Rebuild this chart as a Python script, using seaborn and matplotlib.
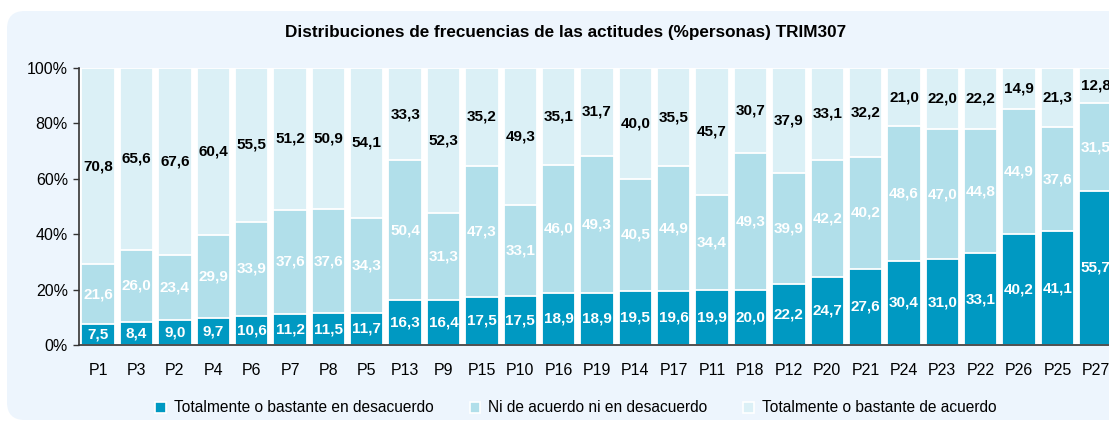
import numpy as np
import pandas as pd
import seaborn as sns
import matplotlib.pyplot as plt
from matplotlib.patches import FancyBboxPatch, Patch

# data
preguntas = ['P1', 'P3', 'P2', 'P4', 'P6', 'P7', 'P8', 'P5', 'P13', 'P9', 'P15', 'P10', 'P16', 'P19',
             'P14', 'P17', 'P11', 'P18', 'P12', 'P20', 'P21', 'P24', 'P23', 'P22', 'P26', 'P25', 'P27']
desacuerdo = [7.5, 8.4, 9.0, 9.7, 10.6, 11.2, 11.5, 11.7, 16.3, 16.4, 17.5, 17.5, 18.9, 18.9,
              19.5, 19.6, 19.9, 20.0, 22.2, 24.7, 27.6, 30.4, 31.0, 33.1, 40.2, 41.1, 55.7]
neutral = [21.6, 26.0, 23.4, 29.9, 33.9, 37.6, 37.6, 34.3, 50.4, 31.3, 47.3, 33.1, 46.0, 49.3,
           40.5, 44.9, 34.4, 49.3, 39.9, 42.2, 40.2, 48.6, 47.0, 44.8, 44.9, 37.6, 31.5]
acuerdo = [70.8, 65.6, 67.6, 60.4, 55.5, 51.2, 50.9, 54.1, 33.3, 52.3, 35.2, 49.3, 35.1, 31.7,
           40.0, 35.5, 45.7, 30.7, 37.9, 33.1, 32.2, 21.0, 22.0, 22.2, 14.9, 21.3, 12.8]
series = ['Totalmente o bastante en desacuerdo', 'Ni de acuerdo ni en desacuerdo',
          'Totalmente o bastante de acuerdo']
colores = ['#0099c2', '#b1dfea', '#dbf0f6']

df = pd.DataFrame({'pregunta': preguntas, 'd': desacuerdo, 'n': neutral, 'a': acuerdo})
total = df['d'] + df['n'] + df['a']
# 100% stacked: normalise each bar
df['c1'] = df['d'] / total * 100
df['c2'] = (df['d'] + df['n']) / total * 100
df['c3'] = 100.0

sns.set_style('white')
plt.rcParams['font.family'] = ['Liberation Sans', 'DejaVu Sans']
plt.rcParams['text.color'] = 'black'
plt.rcParams['xtick.color'] = 'black'
plt.rcParams['ytick.color'] = 'black'

fig = plt.figure(figsize=(11.09, 4.21), dpi=100)
fig.patch.set_facecolor('white')

# rounded light blue panel behind everything
panel = FancyBboxPatch((7 / 1109, 1 / 421), 1.2, (410 - 1) / 421,
                       boxstyle='round,pad=0,rounding_size=0.016',
                       transform=fig.transFigure, facecolor='#edf5fd', edgecolor='none',
                       mutation_aspect=1109 / 421, zorder=-10)
fig.add_artist(panel)

ax = fig.add_axes([79 / 1109, 76 / 421, 27 * 38.37 / 1109, 277 / 421])
ax.set_facecolor('white')

# stacked bars drawn from the back: total, desacuerdo+neutral, desacuerdo
for col, c in zip(['c3', 'c2', 'c1'], colores[::-1]):
    sns.barplot(data=df, x='pregunta', y=col, order=preguntas, color=c, saturation=1,
                width=0.87, edgecolor='white', linewidth=1.3, errorbar=None, ax=ax)

def fmt(v):
    return f'{v:.1f}'.replace('.', ',')

for i in range(len(preguntas)):
    c1, c2 = df['c1'][i], df['c2'][i]
    ax.text(i, c1 / 2, fmt(desacuerdo[i]), ha='center', va='center', color='white',
            fontsize=11, fontweight='bold')
    ax.text(i, (c1 + c2) / 2, fmt(neutral[i]), ha='center', va='center', color='white',
            fontsize=11, fontweight='bold')
    ax.text(i, (c2 + 100) / 2, fmt(acuerdo[i]), ha='center', va='center', color='black',
            fontsize=11, fontweight='bold')

ax.set_xlim(-0.5, len(preguntas) - 0.5)
ax.set_ylim(0, 100)
ax.set_yticks(range(0, 101, 20))
ax.set_yticklabels([f'{v}%' for v in range(0, 101, 20)], fontsize=11.5)
ax.set_xticks(range(len(preguntas)))
ax.set_xticklabels(preguntas, fontsize=11.5)
ax.set_xticks(np.arange(-0.5, len(preguntas), 1), minor=True)
ax.tick_params(axis='x', which='major', length=0, pad=13)
ax.tick_params(axis='x', which='minor', length=4, width=1, color='#333333', direction='out')
ax.tick_params(axis='y', length=4, width=1, color='#333333', direction='out', left=True, pad=4)
ax.set_xlabel('')
ax.set_ylabel('')
for s in ['top', 'right']:
    ax.spines[s].set_visible(False)
for s in ['left', 'bottom']:
    ax.spines[s].set_color('#333333')
    ax.spines[s].set_linewidth(1.2)

fig.text(566 / 1109, 1 - 33 / 421, 'Distribuciones de frecuencias de las actitudes (%personas) TRIM307',
         ha='center', va='center', fontsize=12.3, fontweight='bold')

handles = [Patch(facecolor=c, edgecolor='white', linewidth=1.2) for c in colores]
fig.legend(handles, series, loc='center', bbox_to_anchor=(576 / 1109, 1 - 408 / 421), ncol=3,
           frameon=False, fontsize=11.2, handlelength=0.7, handleheight=0.7, handletextpad=0.5,
           columnspacing=2.3)

fig.savefig('out.png', dpi=100)
